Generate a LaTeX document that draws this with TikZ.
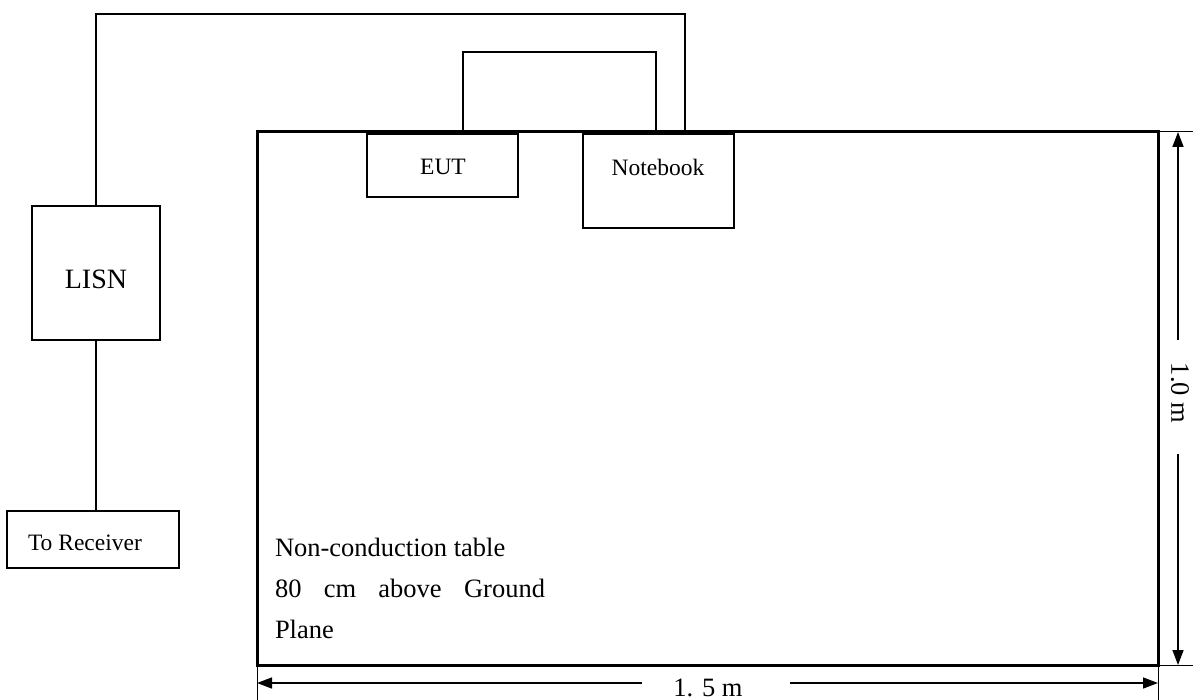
\documentclass[tikz,border=0pt]{standalone}
\usepackage{fontspec}
\setmainfont{Liberation Serif}
\usetikzlibrary{arrows.meta}
\tikzset{
  boxed/.style={draw, line width=1.8pt, fill=white, inner sep=0pt, outer sep=0pt},
  wire/.style={line width=1.8pt},
  tablebox/.style={draw, line width=3pt, inner sep=0pt, outer sep=0pt},
  dimplain/.style={line width=1.5pt},
  extline/.style={line width=1pt},
  lbl/.style={inner sep=0pt, outer sep=0pt},
}
\newcommand{\fsA}{\fontsize{23.5}{28}\selectfont}
\newcommand{\fsB}{\fontsize{26.5}{32}\selectfont}
\newcommand{\fsC}{\fontsize{28}{32}\selectfont}
\begin{document}
\begin{tikzpicture}[x=1pt,y=-1pt]
\useasboundingbox (0,0) rectangle (1193,700);
% table
\node[tablebox, minimum width=901pt, minimum height=533pt] (table) at (707.5,398.5) {};
% boxes
\node[boxed, minimum width=128pt, minimum height=134pt] (lisn) at (96,273) {};
\node[lbl] (lisnt) at (96,279) {\fsC LISN};
\node[boxed, minimum width=172pt, minimum height=57pt] (recv) at (93,539.5) {};
\node[lbl, anchor=west] (recvt) at (28,543) {\fsA To Receiver};
\node[boxed, minimum width=151pt, minimum height=63pt] (eut) at (442.5,165.5) {};
\node[lbl] (eutt) at (443,167) {\fsA EUT};
\node[boxed, minimum width=151pt, minimum height=94pt] (nb) at (658.5,181) {};
\node[lbl] (nbt) at (658,167) {\fsA Notebook};
% wires
\coordinate (w1) at (685,14);
\coordinate (w2) at (463,52);
\coordinate (w3) at (656,52);
\draw[wire] (lisn.north) |- (w1) -- (w1 |- table.north);
\draw[wire] (w2 |- table.north) -- (w2) -- (w3) -- (w3 |- table.north);
\draw[wire] (lisn.south) -- (lisn.south |- recv.north);
% table text
\node[lbl, anchor=base west] (t1) at (275,556) {\fsB Non-conduction table};
\node[lbl, anchor=base west] (t2) at (275,597) {\fsB\makebox[270pt][s]{80\hfill cm\hfill above\hfill Ground}};
\node[lbl, anchor=base west] (t3) at (275,638) {\fsB Plane};
% horizontal dimension
\coordinate (hl) at (257,683);
\coordinate (hr) at (1158,683);
\draw[extline] (table.south west) -- ++(0,36);
\draw[extline] (table.south east) -- ++(0,36);
\node[lbl, anchor=base] (hdim) at (708,696) {\fsB 1. 5 m};
\draw[dimplain, {Triangle[length=15pt,width=11pt]}-] (hl) -- (642,683);
\draw[dimplain, -{Triangle[length=15pt,width=11pt]}] (790,683) -- (hr);
% vertical dimension
\coordinate (vt) at (1178,132);
\coordinate (vb) at (1178,665);
\draw[extline] (table.north east) -- ++(35,0);
\draw[extline] (table.south east) -- ++(35,0);
\node[lbl, rotate=-90] (vdim) at (1180,393) {\fsB 1.0 m};
\draw[dimplain, {Triangle[length=15pt,width=11pt]}-] (vt) -- (1178,340);
\draw[dimplain, -{Triangle[length=15pt,width=11pt]}] (1178,454) -- (vb);
\end{tikzpicture}
\end{document}
